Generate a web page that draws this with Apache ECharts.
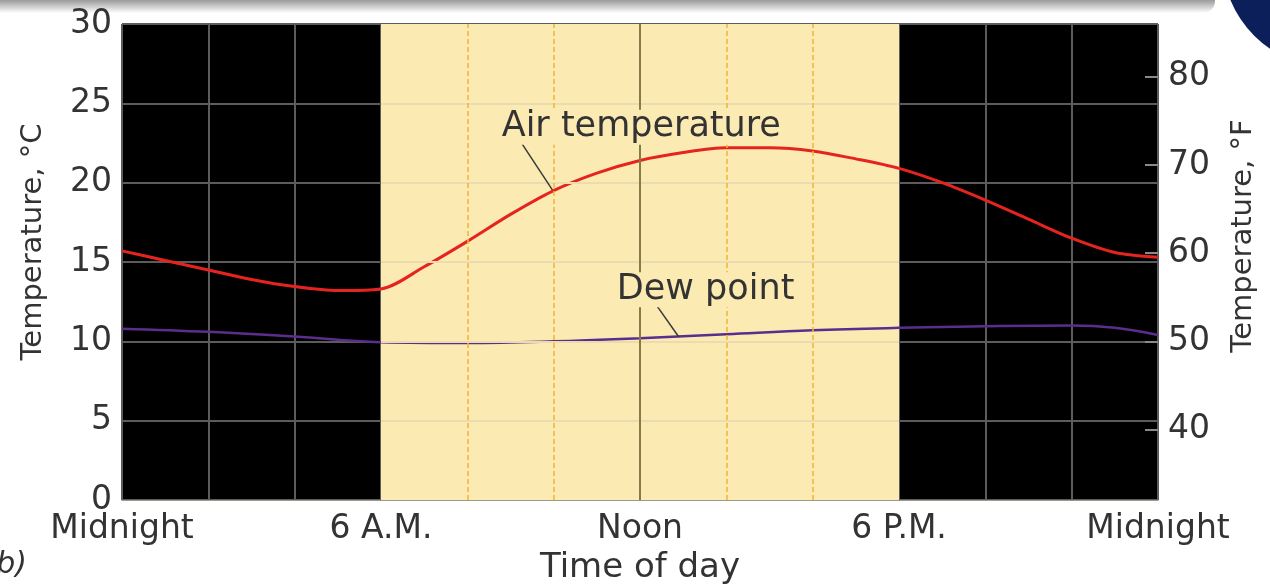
<!DOCTYPE html>
<html>
<head>
<meta charset="utf-8">
<script src="https://cdn.jsdelivr.net/npm/echarts@6/dist/echarts.min.js"></script>
<style>
  html, body { margin: 0; padding: 0; background: #fff; }
  #chart { width: 1270px; height: 588px; }
</style>
</head>
<body>
<div id="chart"></div>
<script>
// hour of day (0 = midnight) and temperature in °C
const airHours = [0, 1, 2, 3, 4, 5, 6, 7, 8, 9, 10, 11, 12, 13, 14, 15, 16, 17, 18, 19, 20, 21, 22, 23, 24]
const airTemp = [15.7, 15.1, 14.5, 13.9, 13.45, 13.2, 13.3, 14.7, 16.3, 18.0, 19.5, 20.6, 21.4, 21.9, 22.2, 22.2, 22.0, 21.5, 20.9, 20.0, 18.9, 17.7, 16.5, 15.6, 15.3]
const dewHours = [0, 2, 4, 6, 8, 10, 12, 14, 16, 18, 20, 22, 23, 24]
const dewTemp = [10.8, 10.6, 10.3, 9.95, 9.9, 10.0, 10.2, 10.45, 10.7, 10.85, 10.95, 11.0, 10.85, 10.4]

const xTickHours = [0, 6, 12, 18, 24]
const xTickLabels = ['Midnight', '6 A.M.', 'Noon', '6 P.M.', 'Midnight']
const fTicks = [40, 50, 60, 70, 80]
const daylight = [6, 18]
const dayGridHours = [8, 10, 14, 16]
const noonHour = 12
const cGrid = [5, 10, 15, 20, 25]

const FONT = 'DejaVu Sans'
const TXT = '#333'
const YELLOW = '#fbeab2'

const cMin = 0, cMax = 30
const toF = c => c * 9 / 5 + 32

const chart = echarts.init(document.getElementById('chart'))

chart.setOption({
  animation: false,
  grid: {
    left: 122, right: 112, top: 24, bottom: 88,
    outerBoundsMode: 'none', containLabel: false,
    show: true, backgroundColor: '#000', borderWidth: 0
  },
  xAxis: {
    type: 'value', min: 0, max: 24, interval: 2,
    axisLine: { show: true, lineStyle: { color: '#9a9a8a', width: 1 } },
    axisTick: { show: false },
    splitLine: { show: true, lineStyle: { color: '#5c5c5c', width: 2 } },
    axisLabel: {
      customValues: xTickHours,
      formatter: v => xTickLabels[xTickHours.indexOf(v)],
      fontFamily: FONT, fontSize: 33, color: TXT, margin: 13
    },
    name: 'Time of day', nameLocation: 'middle', nameGap: 51,
    nameTextStyle: { fontFamily: FONT, fontSize: 34, color: TXT }
  },
  yAxis: [{
    type: 'value', min: cMin, max: cMax, interval: 5,
    axisLine: { show: false }, axisTick: { show: false },
    splitLine: { show: true, lineStyle: { color: '#5c5c5c', width: 2 } },
    axisLabel: { fontFamily: FONT, fontSize: 33, color: TXT, margin: 10 }
  }, {
    type: 'value', position: 'right', min: toF(cMin), max: toF(cMax),
    axisLine: { show: false },
    splitLine: { show: false },
    axisTick: { show: true, inside: true, length: 13, customValues: fTicks, lineStyle: { color: '#8a8a8a', width: 2 } },
    axisLabel: { customValues: fTicks, fontFamily: FONT, fontSize: 33, color: TXT, margin: 10 }
  }],
  graphic: [
    {
      type: 'rect', shape: { x: 0, y: 0, width: 1215, height: 13, r: [0, 0, 12, 0] },
      style: { fill: new echarts.graphic.LinearGradient(0, 0, 0, 1, [
        { offset: 0, color: '#9a9a9a' }, { offset: 1, color: '#ffffff' }
      ]) }, z: -1
    },
    { type: 'circle', shape: { cx: 1332, cy: -42, r: 110 }, style: { fill: '#0c1f5a' }, z: 11 },
    {
      type: 'text', x: 33, y: 242, rotation: Math.PI / 2,
      style: { text: 'Temperature, °C', font: '29px "DejaVu Sans"', fill: TXT, align: 'center', verticalAlign: 'middle' }
    },
    {
      type: 'text', x: 1243, y: 236, rotation: Math.PI / 2,
      style: { text: 'Temperature, °F', font: '29px "DejaVu Sans"', fill: TXT, align: 'center', verticalAlign: 'middle' }
    },
    {
      type: 'text', x: 27, y: 565,
      style: { text: '(b)', font: 'italic 30px "DejaVu Sans"', fill: TXT, align: 'right', verticalAlign: 'middle' }
    }
  ],
  series: [
    {
      // daylight panel and its grid lines
      type: 'line', data: [], z: 1, silent: true,
      markArea: {
        silent: true,
        itemStyle: { color: YELLOW, opacity: 1 },
        data: [[{ xAxis: daylight[0] }, { xAxis: daylight[1] }]]
      },
      markLine: {
        silent: true, symbol: ['none', 'none'], label: { show: false },
        data: cGrid.map(v => [
          { coord: [daylight[0], v], lineStyle: { color: '#eadcae', width: 2, type: 'solid' } },
          { coord: [daylight[1], v] }
        ]).concat(dayGridHours.map(h => ({
          xAxis: h, lineStyle: { color: '#f2b43a', width: 1.5, type: [5, 3] }
        }))).concat([{
          xAxis: noonHour, lineStyle: { color: '#857a4a', width: 2, type: 'solid' }
        }])
      }
    },
    {
      name: 'Dew point', type: 'line', z: 3,
      data: dewHours.map((h, i) => [h, dewTemp[i]]),
      smooth: 0.4, showSymbol: false,
      lineStyle: { color: '#5b2d8e', width: 2.5 }
    },
    {
      name: 'Air temperature', type: 'line', z: 3,
      data: airHours.map((h, i) => [h, airTemp[i]]),
      smooth: 0.3, showSymbol: false,
      lineStyle: { color: '#e6241f', width: 3 }
    },
    {
      // labels with leader lines
      type: 'line', data: [], z: 5, silent: true,
      markLine: {
        silent: true, symbol: ['none', 'none'], label: { show: false },
        lineStyle: { color: '#3a3a3a', width: 1.5, type: 'solid' },
        data: [
          [{ coord: [9.23, 22.6] }, { coord: [9.97, 19.55] }],
          [{ coord: [12.4, 12.2] }, { coord: [12.9, 10.27] }]
        ]
      },
      markPoint: {
        silent: true, symbol: 'circle', symbolSize: 1,
        itemStyle: { color: 'rgba(0,0,0,0)' },
        label: {
          show: true, position: 'inside', formatter: '{b}',
          fontFamily: FONT, fontSize: 35, color: TXT,
          backgroundColor: YELLOW, padding: [0, 2]
        },
        data: [
          { name: 'Air temperature', coord: [12.03, 23.5] },
          { name: 'Dew point', coord: [13.52, 13.25] }
        ]
      }
    }
  ]
})
</script>
</body>
</html>
